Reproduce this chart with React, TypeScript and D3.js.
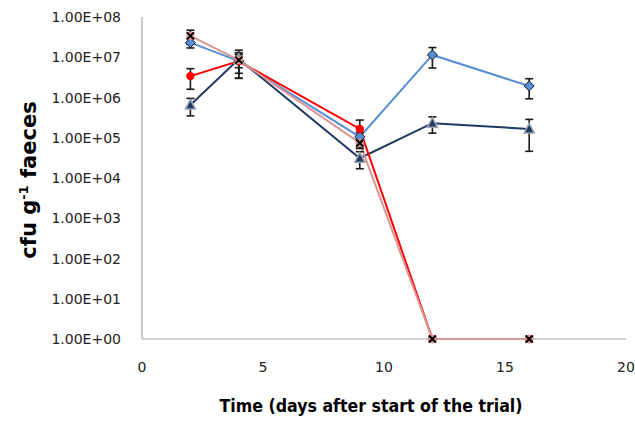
import React from "react";
import * as d3 from "d3";

const days = [2, 4, 9, 12, 16];
const xTicks = [0, 5, 10, 15, 20];
const yTicks = [1, 10, 100, 1e3, 1e4, 1e5, 1e6, 1e7, 1e8];
const yTickLabels = ["1.00E+00", "1.00E+01", "1.00E+02", "1.00E+03", "1.00E+04", "1.00E+05", "1.00E+06", "1.00E+07", "1.00E+08"];

const navyVals = [6.5e5, 9e6, 3.1e4, 2.3e5, 1.66e5];
const navySd = [3e5, 6e6, 1.4e4, 1e5, 1.2e5];
const blueVals = [2.3e7, 8e6, 1.05e5, 1.14e7, 1.93e6];
const blueSd = [6e6, 5e6, 3e4, 6e6, 1e6];
const redVals = [3.4e6, 8e6, 1.65e5, 1, 1];
const redSd = [1.8e6, 4e6, 1.1e5, 0, 0];
const pinkVals = [3.4e7, 8.5e6, 7.4e4, 1, 1];
const pinkSd = [1.3e7, 3e6, 2e4, 0, 0];

type S = { name: string; vals: number[]; sd: number[]; color: string; marker: string };
const series: S[] = [
  { name: "navy", vals: navyVals, sd: navySd, color: "#1F3864", marker: "triangle" },
  { name: "blue", vals: blueVals, sd: blueSd, color: "#558ED5", marker: "diamond" },
  { name: "red", vals: redVals, sd: redSd, color: "#FF0000", marker: "circle" },
  { name: "pink", vals: pinkVals, sd: pinkSd, color: "#D99694", marker: "x" },
];

const W = 635, H = 423;
const left = 142, right = 626, top = 17, bottom = 339;

export default function App() {
  const x = d3.scaleLinear().domain([0, 20]).range([left, right]);
  const y = d3.scaleLog().domain([1, 1e8]).range([bottom, top]).clamp(true);
  const line = d3.line<number>().x((_, i) => x(days[i])).y((v) => y(v));

  const marker = (s: S, v: number, i: number) => {
    const cx = x(days[i]), cy = y(v);
    if (s.marker === "diamond")
      return <path key={i} d={`M${cx},${cy - 5}L${cx + 5},${cy}L${cx},${cy + 5}L${cx - 5},${cy}Z`} fill={s.color} stroke="#1a1a1a" strokeWidth={1} />;
    if (s.marker === "triangle")
      return <path key={i} d={`M${cx},${cy - 5.5}L${cx + 5},${cy + 4}L${cx - 5},${cy + 4}Z`} fill="#1F3864" stroke="#9aa3ad" strokeWidth={1.5} />;
    if (s.marker === "circle")
      return <circle key={i} cx={cx} cy={cy} r={4.2} fill={s.color} />;
    return (
      <g key={i}>
        <rect x={cx - 4} y={cy - 4} width={8} height={8} fill={s.color} />
        <path d={`M${cx - 3.5},${cy - 3.5}L${cx + 3.5},${cy + 3.5}M${cx + 3.5},${cy - 3.5}L${cx - 3.5},${cy + 3.5}`} stroke="#000" strokeWidth={2} />
      </g>
    );
  };

  return (
    <svg width={W} height={H} style={{ position: "absolute", left: 0, top: 0 }} fontFamily="'DejaVu Sans', sans-serif">
      <rect width={W} height={H} fill="#fff" />
      <line x1={left} y1={top} x2={left} y2={bottom} stroke="#a6a6a6" strokeWidth={1.2} />
      <line x1={left} y1={bottom} x2={right} y2={bottom} stroke="#a6a6a6" strokeWidth={1.2} />
      {yTicks.map((t, i) => (
        <text key={t} x={121} y={y(t) + 5} textAnchor="end" fontSize={14} fill="#222">{yTickLabels[i]}</text>
      ))}
      {xTicks.map((t) => (
        <text key={t} x={x(t)} y={372} textAnchor="middle" fontSize={14} fill="#222">{t}</text>
      ))}
      {series.map((s) => (
        <path key={s.name} d={line(s.vals) || ""} fill="none" stroke={s.color} strokeWidth={2} />
      ))}
      {series.map((s) => (
        <g key={s.name + "e"}>
          {s.vals.map((v, i) => {
            if (!s.sd[i]) return null;
            const cx = x(days[i]);
            const y1 = y(v + s.sd[i]), y2 = y(Math.max(v - s.sd[i], 1));
            return (
              <g key={i} stroke="#1a1a1a" strokeWidth={1.6}>
                <line x1={cx} x2={cx} y1={y1} y2={y2} />
                <line x1={cx - 4} x2={cx + 4} y1={y1} y2={y1} />
                <line x1={cx - 4} x2={cx + 4} y1={y2} y2={y2} />
              </g>
            );
          })}
        </g>
      ))}
      {series.map((s) => (
        <g key={s.name + "m"}>{s.vals.map((v, i) => marker(s, v, i))}</g>
      ))}
      <text x={371} y={412} textAnchor="middle" fontSize={17} fontWeight="bold" fill="#000" textLength={303} lengthAdjust="spacingAndGlyphs">Time (days after start of the trial)</text>
      <text transform={`translate(36,180) rotate(-90)`} textAnchor="middle" fontSize={21} fontWeight="bold" fill="#000">
        cfu g<tspan dy={-8} fontSize={13}>-1</tspan><tspan dy={8}> faeces</tspan>
      </text>
    </svg>
  );
}
